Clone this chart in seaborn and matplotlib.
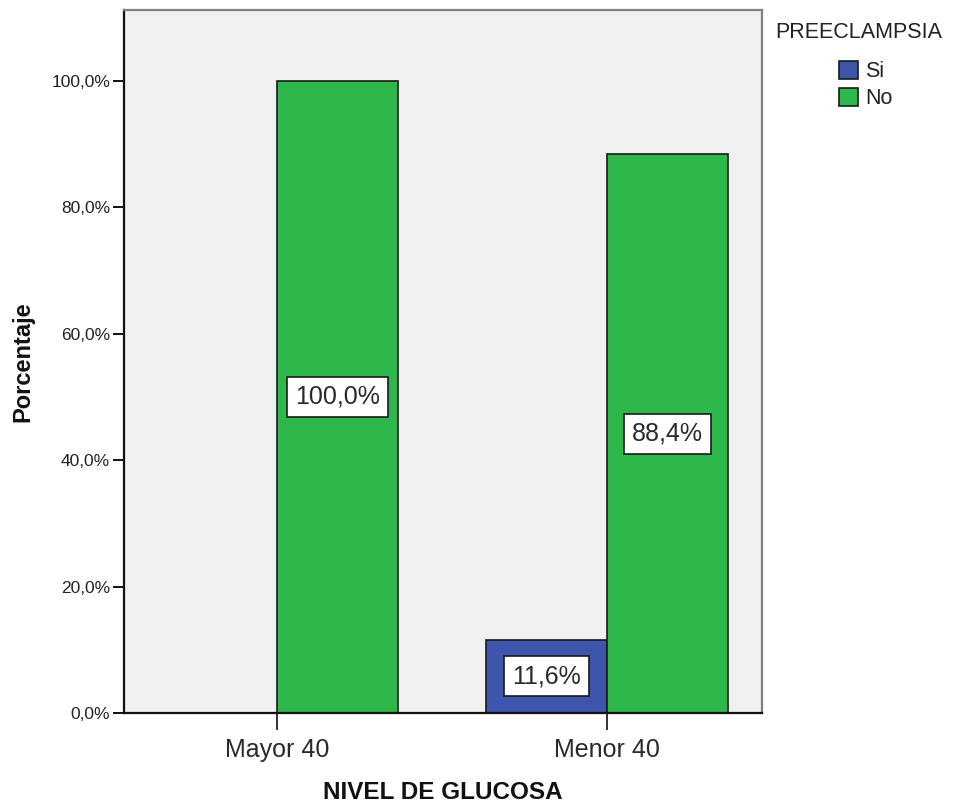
import matplotlib
matplotlib.use("Agg")
import matplotlib.pyplot as plt
from matplotlib.ticker import FuncFormatter
import seaborn as sns
import pandas as pd

# ---- data ----
categories = ["Mayor 40", "Menor 40"]
hue_levels = ["Si", "No"]
row_category = ["Mayor 40", "Menor 40", "Menor 40"]
row_hue = ["No", "Si", "No"]
row_pct = [100.0, 11.6, 88.4]
y_ticks = [0, 20, 40, 60, 80, 100]

df = pd.DataFrame({"NIVEL DE GLUCOSA": row_category,
                   "PREECLAMPSIA": row_hue,
                   "Porcentaje": row_pct})

sns.set_theme(style="white")
plt.rcParams["font.family"] = ["Liberation Sans", "DejaVu Sans"]

fig = plt.figure(figsize=(9.62, 8.05), dpi=100)
ax = fig.add_axes([124 / 962, 1 - 713 / 805, (762 - 124) / 962, (713 - 10) / 805])

palette = {"Si": "#3D56AB", "No": "#2EB84B"}
sns.barplot(data=df, x="NIVEL DE GLUCOSA", y="Porcentaje", hue="PREECLAMPSIA",
            order=categories, hue_order=hue_levels, palette=palette,
            width=0.734, edgecolor="#1a1a1a", linewidth=1.2, saturation=1,
            errorbar=None, dodge=True, ax=ax)

ax.set_facecolor("#F0F0F0")
ax.set_ylim(0, 111.2)
ax.set_xlim(-0.464, 1.470)
ax.set_yticks(y_ticks)
ax.yaxis.set_major_formatter(FuncFormatter(lambda v, _: f"{v:.1f}%".replace(".", ",")))

fmt = lambda v: f"{v:.1f}%".replace(".", ",")
for cont in ax.containers:
    ax.bar_label(cont, fmt=fmt, label_type="center", fontsize=18, color="#2a2a2a",
                 bbox=dict(boxstyle="square,pad=0.32", facecolor="white",
                           edgecolor="#1a1a1a", linewidth=1.2))

for side in ["left", "bottom"]:
    ax.spines[side].set_color("#111111")
    ax.spines[side].set_linewidth(1.6)
for side in ["top", "right"]:
    ax.spines[side].set_color("#808080")
    ax.spines[side].set_linewidth(1.6)

ax.tick_params(axis="y", which="major", left=True, length=8, width=1.4, color="#111111",
               pad=2, labelsize=12.5, labelcolor="#222222")
ax.tick_params(axis="x", which="major", bottom=True, length=12, width=1.2, color="#111111",
               pad=6, labelsize=18, labelcolor="#2a2a2a")

ax.set_xlabel("NIVEL DE GLUCOSA", fontsize=17.5, fontweight="bold", color="#111111", labelpad=14)
ax.set_ylabel("Porcentaje", fontsize=17, fontweight="bold", color="#111111", labelpad=12)

handles, labels = ax.get_legend_handles_labels()
ax.get_legend().remove()
fig.text(775 / 962, 1 - 33 / 805, "PREECLAMPSIA", fontsize=15.5, color="#222222",
         ha="left", va="center")
leg = fig.legend(handles, labels, loc="upper left",
                 bbox_to_anchor=(839 / 962, 1 - 61 / 805), frameon=False,
                 fontsize=15.5, borderpad=0, borderaxespad=0,
                 handlelength=0.9, handleheight=0.9, handletextpad=0.3,
                 labelspacing=0.25)
for t in leg.get_texts():
    t.set_color("#222222")

fig.savefig("out.png", dpi=100)
